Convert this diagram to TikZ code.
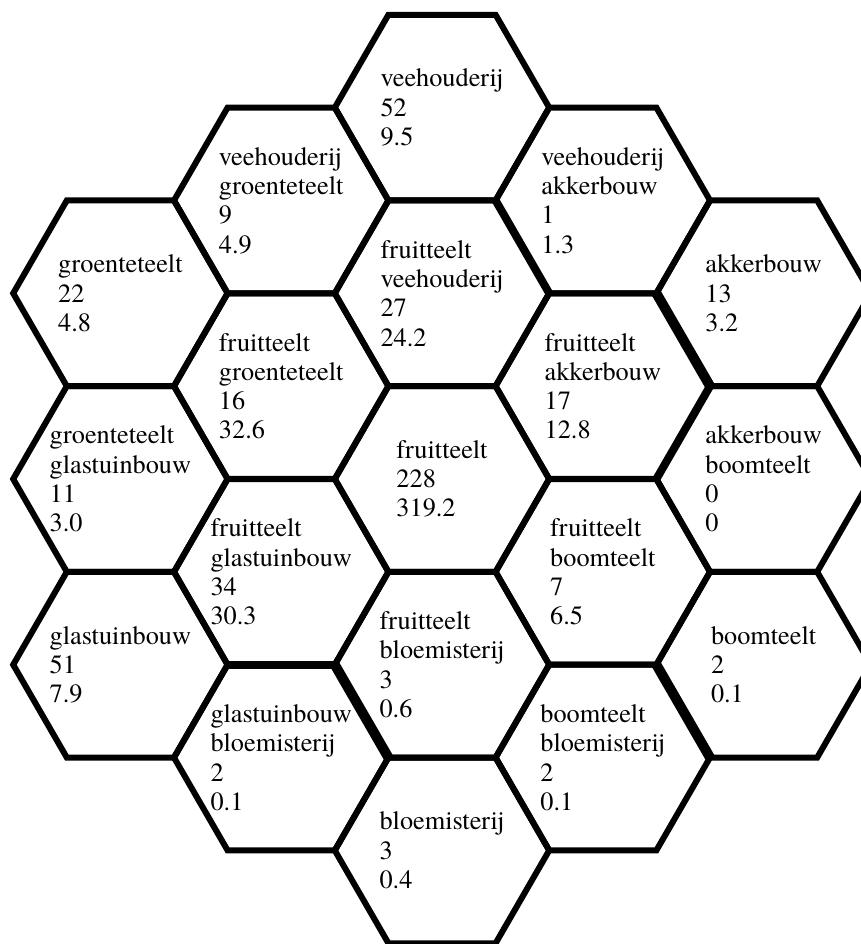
\documentclass[tikz,border=0pt]{standalone}
\usepackage{fontspec}
\setmainfont{texgyretermes-regular.otf}
\usetikzlibrary{calc}
\def\hexR{107.2}
\tikzset{
  hexline/.style={draw=black, line width=6pt, line join=miter},
  heavyedge/.style={draw=black, line width=10pt},
  midedge/.style={draw=black, line width=8pt},
  celltext/.style={align=left, inner sep=0pt, font=\rmfamily\fontsize{26.3}{29.3}\selectfont}
}
\newcommand{\hexcell}[4]{%
  \draw[hexline, shift={(#2,#3)}] (0:\hexR) -- (60:\hexR) -- (120:\hexR) -- (180:\hexR) -- (240:\hexR) -- (300:\hexR) -- cycle;
  \node[celltext] (#1) at (#2,#3) {#4};
}
\begin{document}
\begin{tikzpicture}[x=1pt, y=-1pt]
\useasboundingbox[fill=white] (0,0) rectangle (861,944);
% column 0
\hexcell{a1}{442}{107.6}{veehouderij\\52\\9.5}
\hexcell{a2}{442}{293.3}{fruitteelt\\veehouderij\\27\\24.2}
\hexcell{a3}{442}{479}{fruitteelt\\228\\319.2}
\hexcell{a4}{442}{664.7}{fruitteelt\\bloemisterij\\3\\0.6}
\hexcell{a5}{442}{850.4}{bloemisterij\\3\\0.4}
% column -1
\hexcell{b1}{281.2}{200.45}{veehouderij\\groenteteelt\\9\\4.9}
\hexcell{b2}{281.2}{386.15}{fruitteelt\\groenteteelt\\16\\32.6}
\hexcell{b3}{281.2}{571.85}{fruitteelt\\glastuinbouw\\34\\30.3}
\hexcell{b4}{281.2}{757.55}{glastuinbouw\\bloemisterij\\2\\0.1}
% column -2
\hexcell{c1}{120.4}{293.3}{groenteteelt\\22\\4.8}
\hexcell{c2}{120.4}{479}{groenteteelt\\glastuinbouw\\11\\3.0}
\hexcell{c3}{120.4}{664.7}{glastuinbouw\\51\\7.9}
% column 1
\hexcell{d1}{602.8}{200.45}{veehouderij\\akkerbouw\\1\\1.3}
\hexcell{d2}{602.8}{386.15}{fruitteelt\\akkerbouw\\17\\12.8}
\hexcell{d3}{602.8}{571.85}{fruitteelt\\boomteelt\\7\\6.5}
\hexcell{d4}{602.8}{757.55}{boomteelt\\bloemisterij\\2\\0.1}
% column 2
\hexcell{e1}{763.6}{293.3}{akkerbouw\\13\\3.2}
\hexcell{e2}{763.6}{479}{akkerbouw\\boomteelt\\0\\0}
\hexcell{e3}{763.6}{664.7}{boomteelt\\2\\0.1}
% heavier shared edges
\draw[heavyedge] ($(d2)+(300:\hexR)$) -- ($(d2)+(0:\hexR)$);
\draw[heavyedge] ($(d4)+(300:\hexR)$) -- ($(d4)+(0:\hexR)$);
\draw[heavyedge] ($(b4)+(300:\hexR)$) -- ($(b4)+(0:\hexR)$);
\draw[midedge] ($(d2)+(0:\hexR)$) -- ($(d2)+(60:\hexR)$);
\draw[midedge] ($(d1)+(120:\hexR)$) -- ($(d1)+(180:\hexR)$);
\draw[midedge] ($(b3)+(60:\hexR)$) -- ($(b3)+(120:\hexR)$);
\end{tikzpicture}
\end{document}
